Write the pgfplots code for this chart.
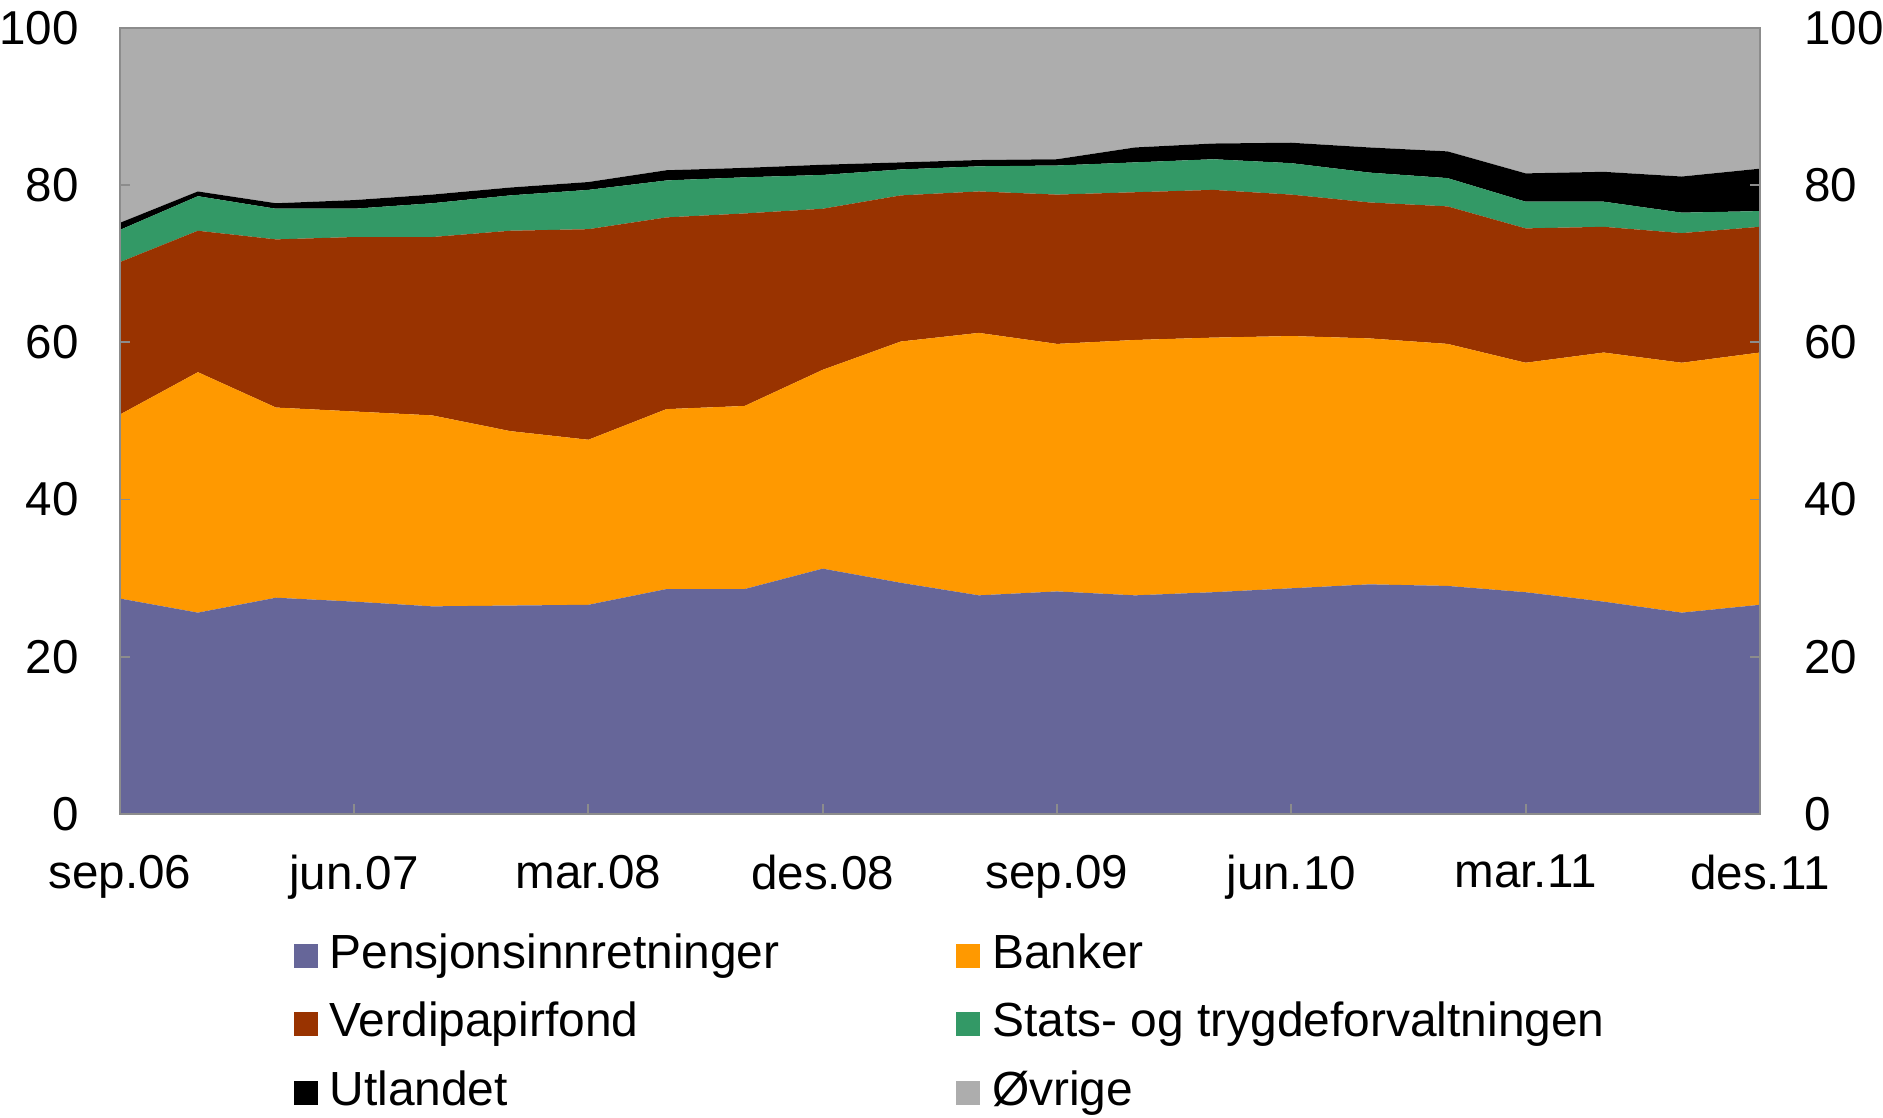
\documentclass[border=0pt]{standalone}
\usepackage{fontspec}
\setmainfont{Liberation Sans}
\usepackage{pgfplots}
\usepackage{pgfplotstable}
\pgfplotsset{compat=1.18}

\definecolor{cPen}{HTML}{666699}
\definecolor{cBank}{HTML}{FF9900}
\definecolor{cVerd}{HTML}{993300}
\definecolor{cStat}{HTML}{339966}
\definecolor{cUtl}{HTML}{000000}
\definecolor{cOvr}{HTML}{ADADAD}
\definecolor{cAxis}{HTML}{8C8C8C}

% quarterly shares (per cent), sep.06 -- des.11
\pgfplotstableread{
x  pen  bank verd stat utl ovr
0  27.4 23.4 19.4 4.1 0.9 24.8
1  25.6 30.6 18.0 4.4 0.6 20.8
2  27.5 24.2 21.4 3.9 0.7 22.3
3  27.0 24.2 22.2 3.6 1.1 21.9
4  26.4 24.3 22.7 4.3 1.1 21.2
5  26.5 22.2 25.5 4.5 1.0 20.3
6  26.6 21.0 26.8 5.0 1.0 19.6
7  28.6 22.9 24.4 4.7 1.3 18.1
8  28.6 23.3 24.5 4.6 1.2 17.8
9  31.2 25.3 20.5 4.3 1.3 17.4
10 29.4 30.7 18.6 3.3 0.9 17.1
11 27.8 33.4 18.0 3.2 0.8 16.8
12 28.3 31.5 19.0 3.7 0.8 16.7
13 27.8 32.5 18.8 3.8 1.9 15.2
14 28.2 32.4 18.8 3.9 2.0 14.7
15 28.7 32.1 18.0 4.0 2.6 14.6
16 29.2 31.3 17.3 3.8 3.2 15.2
17 29.0 30.8 17.5 3.6 3.4 15.7
18 28.2 29.2 17.1 3.4 3.6 18.5
19 27.0 31.7 16.0 3.2 3.8 18.3
20 25.6 31.8 16.5 2.6 4.6 18.9
21 26.6 32.1 16.0 2.0 5.4 17.9
}\shares

\pgfplotsset{
  base/.style={
    scale only axis, width=445pt, height=213.2pt,
    at={(0pt,0pt)}, anchor=south west,
    xmin=0, xmax=21, ymin=0, ymax=100,
    ytick={0,20,...,100},
    tick label style={font=\fontsize{12.9}{15}\selectfont, inner sep=0pt},
    /pgf/number format/assume math mode=true,
  },
}

\begin{document}
\begin{tikzpicture}
% page frame: same proportions as the reference
\path[use as bounding box] (-32.5pt,-82.3pt) rectangle (478.4pt,220.8pt);

\begin{axis}[
  base,
  stack plots=y,
  axis on top,
  xtick={0,3,...,21},
  xticklabels={sep.06,jun.07,mar.08,des.08,sep.09,jun.10,mar.11,des.11},
  xtick pos=bottom, ytick pos=both,
  yticklabel pos=left,
  tick align=inside, major tick length=2.7pt,
  tick style={cAxis, line width=0.5pt},
  axis line style={cAxis, line width=0.5pt},
  xticklabel style={yshift=-11pt},
  yticklabel style={xshift=-11pt},
  legend columns=2,
  legend cell align=left,
  legend image code/.code={\fill[#1] (0pt,-3.25pt) rectangle (6.5pt,3.25pt);},
  legend style={
    at={(0.1055,-0.1445)}, anchor=north west,
    draw=none, fill=none, inner sep=0pt,
    font=\fontsize{13}{15}\selectfont,
    nodes={inner sep=1.5pt, text height=9.4pt, text depth=2.7pt},
    column sep=1.75pt, row sep=3.5pt,
    /tikz/every even column/.append style={column sep=46.4pt},
  },
]
\addplot[fill=cPen,  draw=none] table[x=x, y=pen]  {\shares} \closedcycle;
\addlegendentry{Pensjonsinnretninger}
\addplot[fill=cBank, draw=none] table[x=x, y=bank] {\shares} \closedcycle;
\addlegendentry{Banker}
\addplot[fill=cVerd, draw=none] table[x=x, y=verd] {\shares} \closedcycle;
\addlegendentry{Verdipapirfond}
\addplot[fill=cStat, draw=none] table[x=x, y=stat] {\shares} \closedcycle;
\addlegendentry{Stats- og trygdeforvaltningen}
\addplot[fill=cUtl,  draw=none] table[x=x, y=utl]  {\shares} \closedcycle;
\addlegendentry{Utlandet}
\addplot[fill=cOvr,  draw=none] table[x=x, y=ovr]  {\shares} \closedcycle;
\addlegendentry{Øvrige}
\end{axis}

% right-hand labels
\begin{axis}[
  base,
  hide x axis,
  axis y line*=right,
  y axis line style={draw=none},
  major tick length=0pt,
  yticklabel style={xshift=11.9pt},
]
\addplot[draw=none] coordinates {(0,0) (21,100)};
\end{axis}
\end{tikzpicture}
\end{document}
